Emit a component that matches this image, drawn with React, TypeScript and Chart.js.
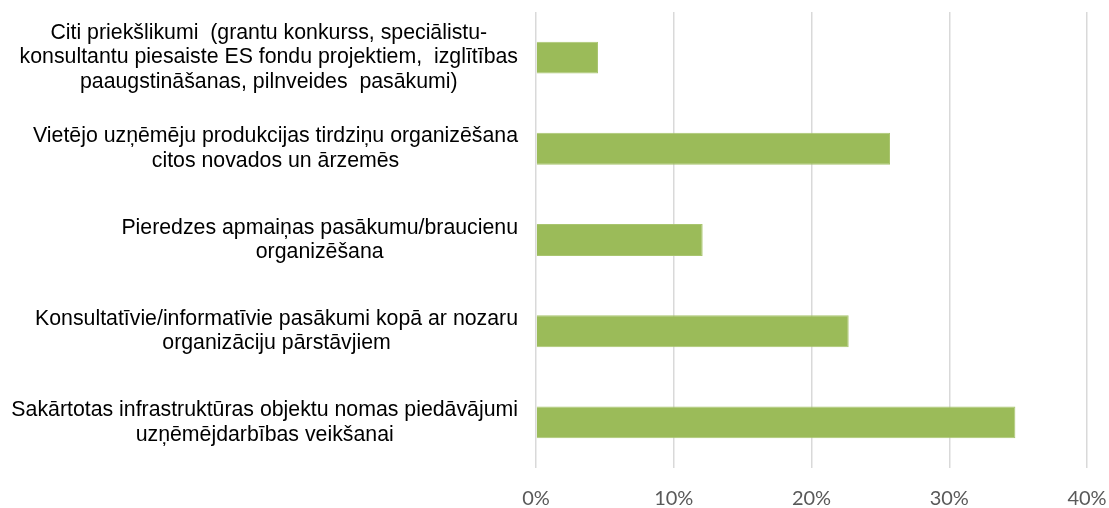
import React, { useEffect, useRef } from "react";
import { Chart, registerables } from "chart.js";

Chart.register(...registerables);

const categories: string[][] = [
  [
    "Citi priekšlikumi  (grantu konkurss, speciālistu-",
    "konsultantu piesaiste ES fondu projektiem,  izglītības",
    "paaugstināšanas, pilnveides  pasākumi)",
  ],
  ["Vietējo uzņēmēju produkcijas tirdziņu organizēšana", "citos novados un ārzemēs"],
  ["Pieredzes apmaiņas pasākumu/braucienu", "organizēšana"],
  ["Konsultatīvie/informatīvie pasākumi kopā ar nozaru", "organizāciju pārstāvjiem"],
  ["Sakārtotas infrastruktūras objektu nomas piedāvājumi", "uzņēmējdarbības veikšanai"],
];

const values: number[] = [4.5, 25.7, 12.1, 22.7, 34.8];

const xMin = 0;
const xMax = 40;
const xStep = 10;

const LABEL_FONT_SIZE = 21.3;
const LABEL_LINE_HEIGHT = 24.5;

const categoryLabelPlugin = {
  id: "categoryLabels",
  afterDraw(chart: any) {
    const ctx = chart.ctx;
    const yScale = chart.scales.y;
    const right = chart.chartArea.left - 18;
    ctx.save();
    ctx.font = `${LABEL_FONT_SIZE}px "Liberation Sans", Arial, sans-serif`;
    ctx.fillStyle = "#000000";
    ctx.textAlign = "center";
    ctx.textBaseline = "middle";
    categories.forEach((lines, i) => {
      const cy = yScale.getPixelForValue(i);
      const w = Math.max(...lines.map((l) => ctx.measureText(l).width));
      const cx = right - w / 2;
      lines.forEach((line, j) => {
        ctx.fillText(line, cx, cy + (j - (lines.length - 1) / 2) * LABEL_LINE_HEIGHT);
      });
    });
    ctx.restore();
  },
};

export default function App() {
  const canvasRef = useRef<HTMLCanvasElement | null>(null);

  useEffect(() => {
    if (!canvasRef.current) return;
    const chart = new Chart(canvasRef.current, {
      type: "bar",
      data: {
        labels: categories.map((c) => c.join(" ")),
        datasets: [
          {
            data: values,
            backgroundColor: "#9BBB59",
            borderColor: "#A9C56F",
            borderWidth: 1,
            categoryPercentage: 1,
            barPercentage: 0.35,
          },
        ],
      },
      options: {
        indexAxis: "y",
        animation: false,
        responsive: true,
        maintainAspectRatio: false,
        layout: { padding: { top: 12, right: 22, left: 0, bottom: 0 } },
        plugins: {
          legend: { display: false },
          tooltip: { enabled: false },
        },
        scales: {
          x: {
            min: xMin,
            max: xMax,
            grid: { color: "#D9D9D9", lineWidth: 1.5, drawTicks: false },
            border: { display: false },
            ticks: {
              stepSize: xStep,
              padding: 19,
              color: "#595959",
              font: { family: "Lato, 'Open Sans', sans-serif", size: 20 },
              callback: (v: any) => `${v}%`,
            },
            afterFit: (s: any) => {
              s.height = 40;
              s.paddingLeft = 0;
              s.paddingRight = 0;
            },
          },
          y: {
            grid: { display: false },
            border: { display: false },
            ticks: { display: false },
            afterFit: (s: any) => {
              s.width = 536;
            },
          },
        },
      },
      plugins: [categoryLabelPlugin],
    });
    return () => chart.destroy();
  }, []);

  return (
    <div style={{ position: "absolute", left: 0, top: 0, width: 1109, height: 508, background: "#fff" }}>
      <canvas ref={canvasRef} />
    </div>
  );
}
